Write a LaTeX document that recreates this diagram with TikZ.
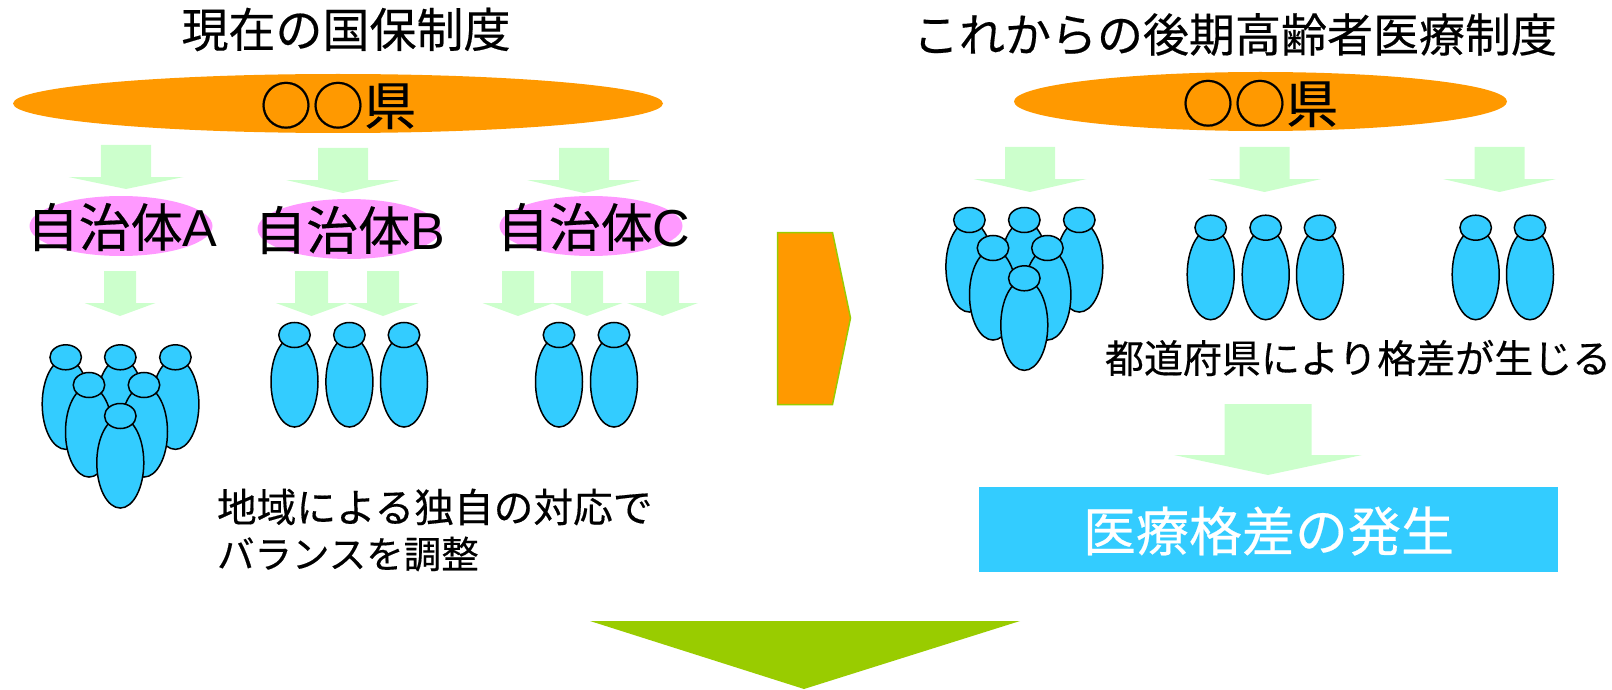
\documentclass[tikz,border=0pt]{standalone}
\usepackage{fontspec}
\setmainfont{Liberation Sans}
\newfontfamily\cjk[FakeBold=0.35]{Noto Sans CJK JP}
\usetikzlibrary{shapes.geometric}
\definecolor{lgreen}{HTML}{CCFFCC}
\definecolor{porange}{HTML}{FF9900}
\definecolor{ppink}{HTML}{FF99FF}
\definecolor{pblue}{HTML}{33CCFF}
\definecolor{pgreen}{HTML}{99CC00}
\tikzset{
  x=1pt,y=-1pt,
  label text/.style={inner sep=0pt,outer sep=0pt,text=black},
  blob/.style={ellipse,inner sep=0pt,outer sep=0pt},
  pref/.style={blob,fill=porange,minimum height=59pt},
  town/.style={blob,fill=ppink,minimum width=183pt,minimum height=60pt},
  body part/.style={blob,draw=black,line width=1.5pt,fill=pblue},
  flow/.style={fill=lgreen,draw=none},
}
% tip x, shaft half width, head half width, top y, shoulder y, tip y
\newcommand{\flowarrow}[6]{\fill[flow] (#1-#2,#4) -- (#1+#2,#4) -- (#1+#2,#5) -- (#1+#3,#5) -- (#1,#6) -- (#1-#3,#5) -- (#1-#2,#5) -- cycle;}
\newcommand{\person}[3]{%
  \node[body part,minimum width=47pt,minimum height=90.5pt] (#1b) at (#2,#3+46.8) {};
  \node[body part,minimum width=31.5pt,minimum height=25pt] (#1h) at (#2,#3) {};}
\begin{document}
\begin{tikzpicture}
\useasboundingbox (0,0) rectangle (1612,690);
% titles
\node[label text] (titleL) at (346,29.5) {\cjk\fontsize{47}{47}\selectfont 現在の国保制度};
\node[label text] (titleR) at (1235,34.5) {\cjk\fontsize{46}{46}\selectfont これからの後期高齢者医療制度};
% prefectures
\node[pref,minimum width=650pt] (prefL) at (338,103.5) {};
\node[label text] (prefLt) at (338,105.5) {\cjk\fontsize{52}{52}\selectfont ○○県};
\node[pref,minimum width=493pt] (prefR) at (1260.5,101.5) {};
\node[label text] (prefRt) at (1260,103.5) {\cjk\fontsize{52}{52}\selectfont ○○県};
% left first row arrows
\flowarrow{126}{25.2}{57.5}{145}{177}{189}
\flowarrow{343}{25}{57}{148}{180}{193}
\flowarrow{584}{25}{57}{148}{180}{193}
% municipalities
\node[town] (townA) at (121,226) {};
\node[town] (townB) at (349,229) {};
\node[town] (townC) at (591,226) {};
\node[label text] (townAt) at (122,227) {\fontsize{52}{52}\selectfont{\cjk 自治体}A};
\node[label text] (townBt) at (349.5,230) {\fontsize{52}{52}\selectfont{\cjk 自治体}B};
\node[label text] (townCt) at (593.5,227) {\fontsize{52}{52}\selectfont{\cjk 自治体}C};
% left second row arrows
\flowarrow{120}{16}{35.5}{271}{303}{316}
\flowarrow{311.5}{16.5}{35.7}{271}{303}{316}
\flowarrow{383}{16}{35.7}{271}{303}{316}
\flowarrow{518}{16}{35.5}{271}{303}{316}
\flowarrow{587}{16}{35.5}{271}{303}{316}
\flowarrow{662.5}{16.5}{35.5}{271}{303}{316}
% left people
\person{a1}{65.7}{357.3}
\person{a2}{120.3}{357.3}
\person{a3}{175.4}{357.3}
\person{a4}{89}{385}
\person{a5}{144}{385}
\person{a6}{120.3}{416}
\person{b1}{294.5}{335}
\person{b2}{349.4}{335}
\person{b3}{404}{335}
\person{c1}{559}{335}
\person{c2}{614}{335}
% left note
\node[label text,anchor=west] (noteL1) at (217,507) {\cjk\fontsize{39.7}{40}\selectfont 地域による独自の対応で};
\node[label text,anchor=west] (noteL2) at (217,554) {\cjk\fontsize{37.5}{38}\selectfont バランスを調整};
% centre arrow
\draw[fill=porange,draw=pgreen,line width=1.5pt] (777.5,232.5) -- (832.5,232.5) -- (850.5,318) -- (832.5,404.5) -- (777.5,404.5) -- cycle;
% right first row arrows
\flowarrow{1030}{25}{56.5}{147}{179}{192}
\flowarrow{1264.5}{25}{56.7}{147}{179}{192}
\flowarrow{1499.5}{25}{56.5}{147}{179}{192}
% right people
\person{d1}{969.4}{220}
\person{d2}{1024.3}{220}
\person{d3}{1079.3}{220}
\person{d4}{993}{248}
\person{d5}{1047.4}{248}
\person{d6}{1024.3}{278.3}
\person{e1}{1210.7}{227.7}
\person{e2}{1265.7}{227.7}
\person{e3}{1320}{227.7}
\person{f1}{1475.7}{227.7}
\person{f2}{1530}{227.7}
% right note
\node[label text,anchor=west] (noteR) at (1105,358) {\cjk\fontsize{39}{39}\selectfont 都道府県により格差が生じる};
% lower right
\flowarrow{1268}{43.5}{94}{404}{455}{475}
\node[fill=pblue,inner sep=0pt,outer sep=0pt,minimum width=579pt,minimum height=85pt] (gap) at (1268,529.5) {};
\node[label text,text=white] (gapt) at (1268.5,531) {\cjk\fontsize{53}{53}\selectfont 医療格差の発生};
% bottom triangle
\fill[pgreen] (590,621) -- (1020,621) -- (804,689) -- cycle;
\end{tikzpicture}
\end{document}
